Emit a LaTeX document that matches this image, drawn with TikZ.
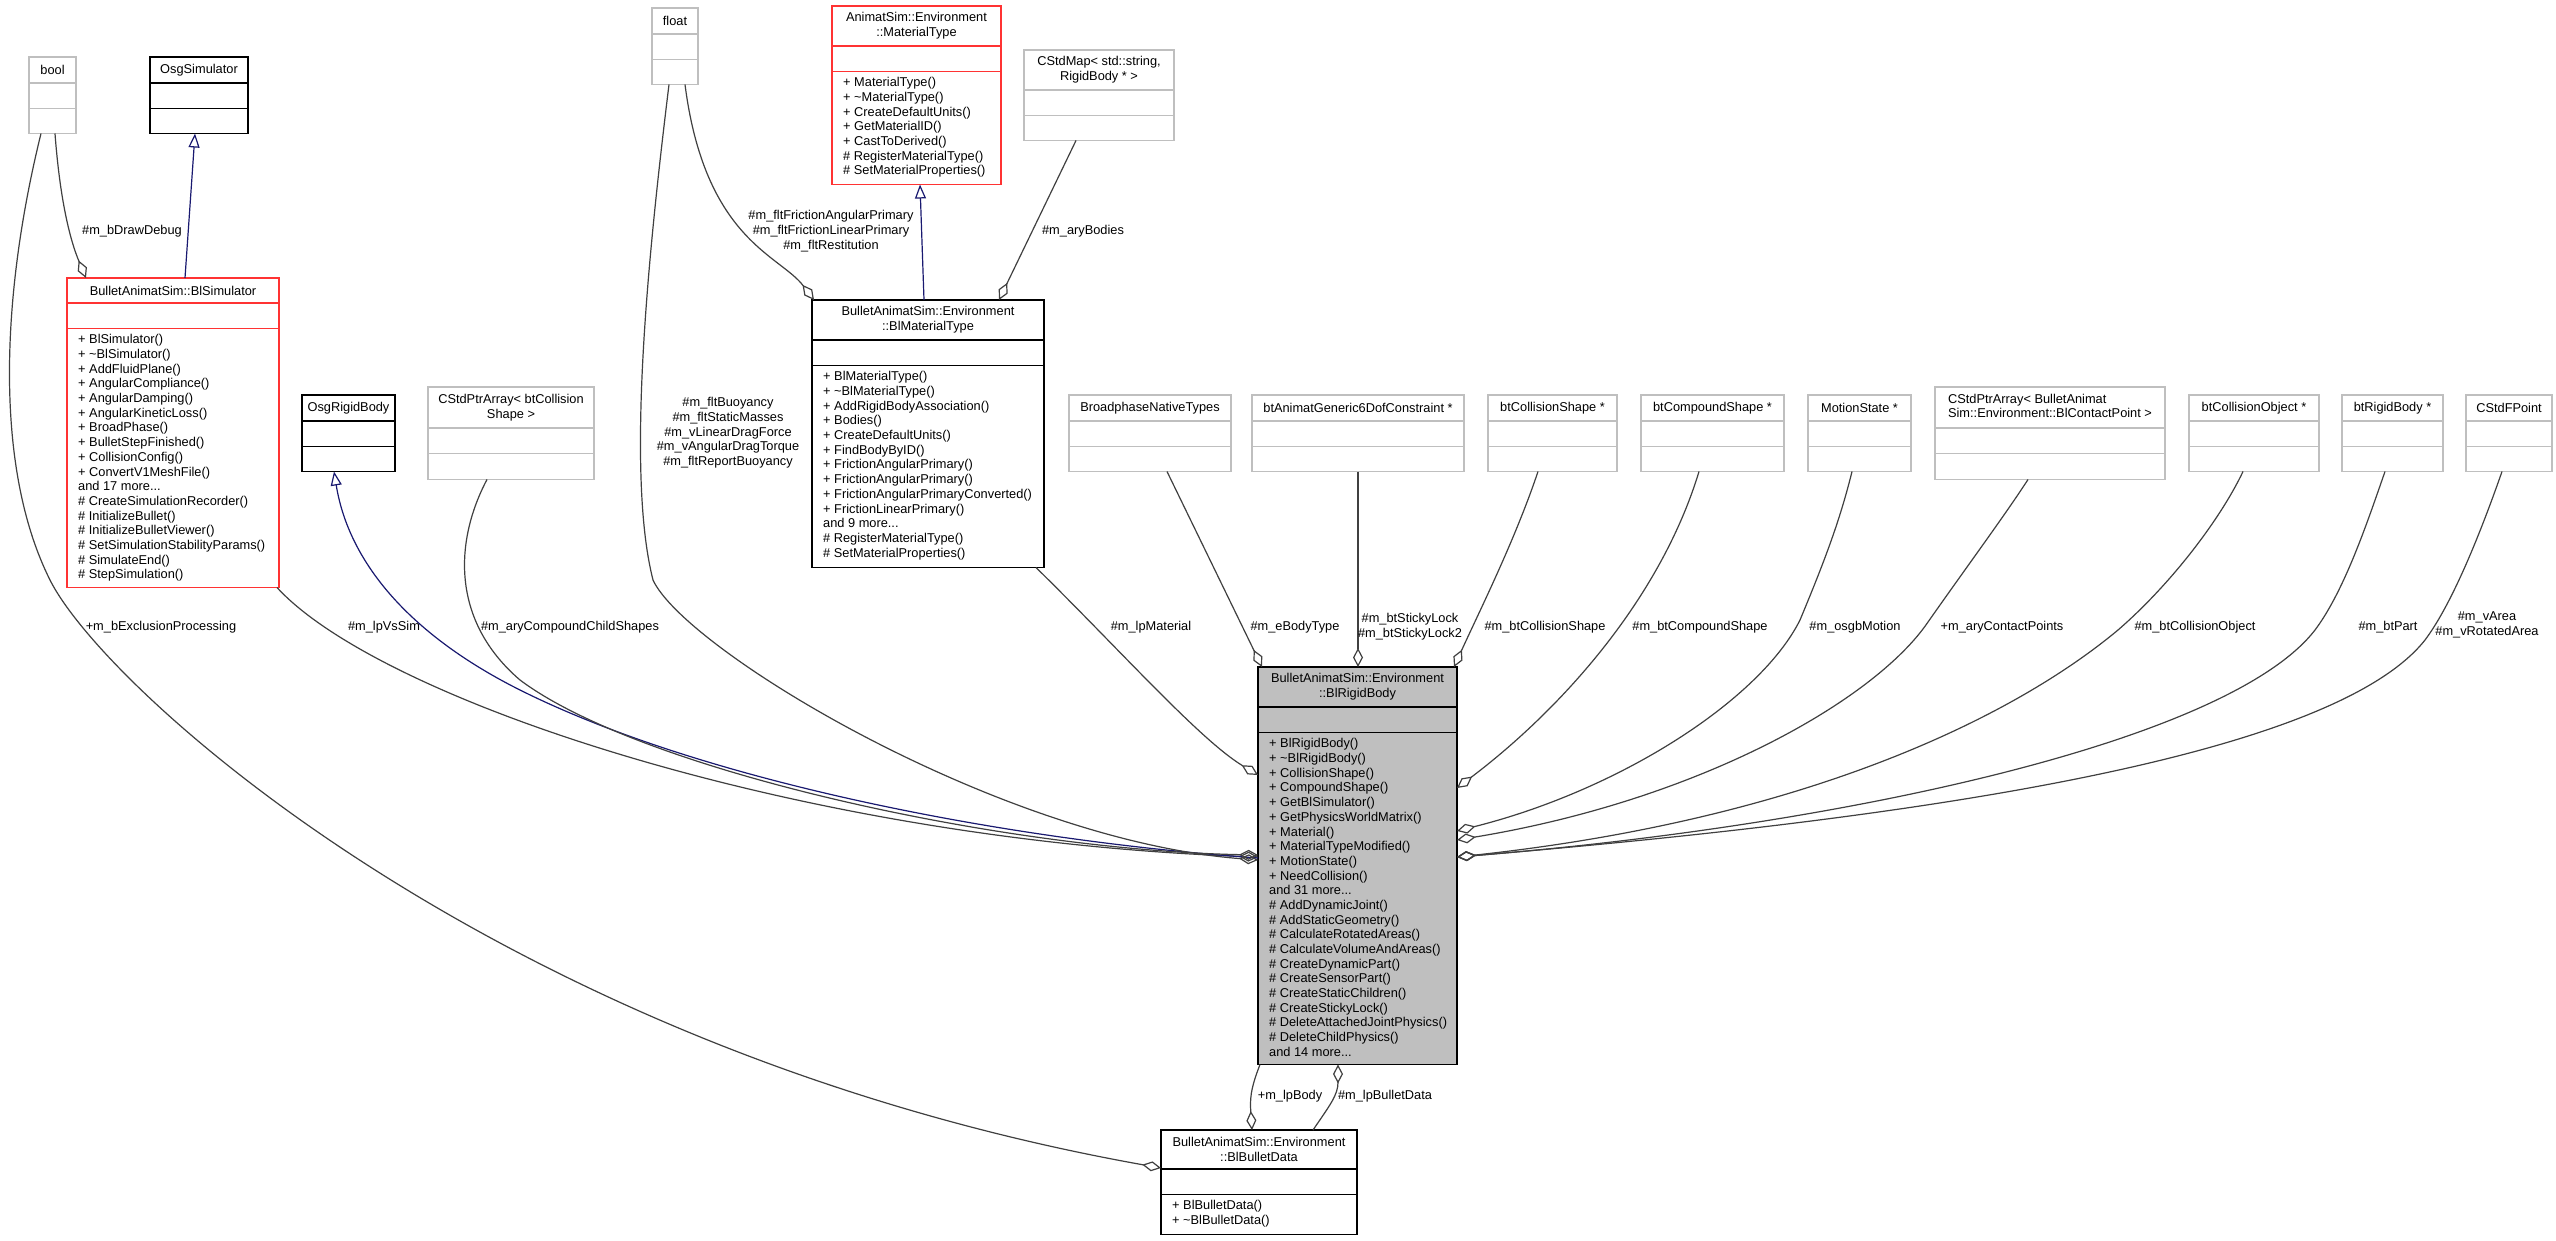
\documentclass[tikz,border=0pt]{standalone}
\usepackage{fontspec}
\setmainfont{Liberation Sans}
\usetikzlibrary{arrows.meta,calc}
\definecolor{boxgray}{HTML}{BFBFBF}
\definecolor{linegray}{HTML}{404040}
\definecolor{inhblue}{HTML}{191970}
\definecolor{boxred}{HTML}{FF3333}
\newcommand{\dfont}{\fontsize{12.8pt}{14.67pt}\selectfont}
% #1 name, #2 style, #3 x, #4 y, #5 width, #6 header height, #7 methods height, #8 header, #9 methods
\newcommand{\umlclass}[9]{%
  \node[#2, anchor=north west, minimum width=#5pt, minimum height={#6pt+25.5pt+#7pt}] (#1) at (#3,#4) {};
  \draw[#2 sep] (#3,{#4+#6}) -- ++(#5,0);
  \draw[#2 sep] (#3,{#4+#6+25.5}) -- ++(#5,0);
  \node[hdr] (#1-h) at ({#3+#5/2},{#4+#6/2}) {#8};
  \if\relax\detokenize{#9}\relax\else
  \node[mth, anchor=north west] (#1-m) at ({#3+11},{#4+#6+25.5+6}) {#9};
  \fi
}
\begin{document}
\begin{tikzpicture}[x=1pt,y=-1pt,
  boxbase/.style={rectangle, line width=1.6pt, outer sep=0pt, inner sep=0pt},
  graybox/.style={boxbase, draw=boxgray},
  graybox sep/.style={draw=boxgray, line width=1.6pt},
  blackbox/.style={boxbase, draw=black},
  blackbox sep/.style={draw=black, line width=1.6pt},
  redbox/.style={boxbase, draw=boxred},
  redbox sep/.style={draw=boxred, line width=1.6pt},
  focusbox/.style={boxbase, draw=black, fill=boxgray},
  focusbox sep/.style={draw=black, line width=1.6pt},
  hdr/.style={font=\dfont, align=center, inner sep=0pt},
  mth/.style={font=\dfont, align=left, inner sep=0pt},
  lbl/.style={font=\dfont, align=center, inner sep=0pt},
  agg/.style={draw=linegray, line width=1.2pt, -{Diamond[open, length=19pt, width=10pt]}},
  inh/.style={draw=inhblue, line width=1.2pt, -{Triangle[open, length=14pt, width=11pt]}}]
\fill[white] (0,0) rectangle (2556,1241);
\useasboundingbox (0,0) rectangle (2556,1241);

% ---------- classes ----------
\umlclass{bool}{graybox}{29}{57}{47}{26}{25}{bool}{}
\umlclass{osgsim}{blackbox}{150}{57}{98}{26}{25}{OsgSimulator}{}
\umlclass{float}{graybox}{652}{8}{46}{26}{25}{float}{}
\umlclass{mattype}{redbox}{832}{6}{169}{40}{113}{AnimatSim::Environment\\::MaterialType}{%
+ MaterialType()\\
+ \textasciitilde MaterialType()\\
+ CreateDefaultUnits()\\
+ GetMaterialID()\\
+ CastToDerived()\\
\# RegisterMaterialType()\\
\# SetMaterialProperties()}
\umlclass{cstdmap}{graybox}{1024}{50}{150}{40}{25}{CStdMap< std::string,\\RigidBody * >}{}
\umlclass{blsim}{redbox}{67}{278}{212}{25}{259}{BulletAnimatSim::BlSimulator}{%
+ BlSimulator()\\
+ \textasciitilde BlSimulator()\\
+ AddFluidPlane()\\
+ AngularCompliance()\\
+ AngularDamping()\\
+ AngularKineticLoss()\\
+ BroadPhase()\\
+ BulletStepFinished()\\
+ CollisionConfig()\\
+ ConvertV1MeshFile()\\
and 17 more...\\
\# CreateSimulationRecorder()\\
\# InitializeBullet()\\
\# InitializeBulletViewer()\\
\# SetSimulationStabilityParams()\\
\# SimulateEnd()\\
\# StepSimulation()}
\umlclass{blmat}{blackbox}{812}{300}{232}{40}{202}{BulletAnimatSim::Environment\\::BlMaterialType}{%
+ BlMaterialType()\\
+ \textasciitilde BlMaterialType()\\
+ AddRigidBodyAssociation()\\
+ Bodies()\\
+ CreateDefaultUnits()\\
+ FindBodyByID()\\
+ FrictionAngularPrimary()\\
+ FrictionAngularPrimary()\\
+ FrictionAngularPrimaryConverted()\\
+ FrictionLinearPrimary()\\
and 9 more...\\
\# RegisterMaterialType()\\
\# SetMaterialProperties()}
\umlclass{osgrb}{blackbox}{302}{395}{93}{26}{25}{OsgRigidBody}{}
\umlclass{cspa}{graybox}{428}{387}{166}{41}{26}{CStdPtrArray< btCollision\\Shape >}{}
\umlclass{bpnt}{graybox}{1069}{395}{162}{26}{25}{BroadphaseNativeTypes}{}
\umlclass{bt6dof}{graybox}{1252}{395}{212}{26}{25}{btAnimatGeneric6DofConstraint *}{}
\umlclass{btcs}{graybox}{1488}{395}{129}{26}{25}{btCollisionShape *}{}
\umlclass{btcomp}{graybox}{1641}{395}{143}{26}{25}{btCompoundShape *}{}
\umlclass{motion}{graybox}{1808}{395}{103}{26}{25}{MotionState *}{}
\umlclass{cpa}{graybox}{1935}{387}{230}{41}{26}{\begin{tabular}{@{}l@{}}CStdPtrArray< BulletAnimat\\Sim::Environment::BlContactPoint >\end{tabular}}{}
\umlclass{btco}{graybox}{2189}{395}{130}{26}{25}{btCollisionObject *}{}
\umlclass{btrb}{graybox}{2342}{395}{101}{26}{25}{btRigidBody *}{}
\umlclass{fpoint}{graybox}{2466}{395}{86}{26}{25}{CStdFPoint}{}
\umlclass{rb}{focusbox}{1258}{667}{199}{40}{332}{BulletAnimatSim::Environment\\::BlRigidBody}{%
+ BlRigidBody()\\
+ \textasciitilde BlRigidBody()\\
+ CollisionShape()\\
+ CompoundShape()\\
+ GetBlSimulator()\\
+ GetPhysicsWorldMatrix()\\
+ Material()\\
+ MaterialTypeModified()\\
+ MotionState()\\
+ NeedCollision()\\
and 31 more...\\
\# AddDynamicJoint()\\
\# AddStaticGeometry()\\
\# CalculateRotatedAreas()\\
\# CalculateVolumeAndAreas()\\
\# CreateDynamicPart()\\
\# CreateSensorPart()\\
\# CreateStaticChildren()\\
\# CreateStickyLock()\\
\# DeleteAttachedJointPhysics()\\
\# DeleteChildPhysics()\\
and 14 more...}
\umlclass{bd}{blackbox}{1161}{1130}{196}{39}{40}{BulletAnimatSim::Environment\\::BlBulletData}{%
+ BlBulletData()\\
+ \textasciitilde BlBulletData()}

% ---------- connectors ----------
\draw[agg] ($(bool.south west)+(26,0)$) .. controls (60,200) and (70,240) .. ($(blsim.north west)+(19,0)$);
\draw[inh] ($(blsim.north west)+(118,0)$) -- ($(osgsim.south west)+(45,0)$);
\draw[agg] ($(bool.south west)+(12,0)$) .. controls (0,300) and (-5,470) .. (50,580)
   .. controls (105,690) and (500,1050) .. ($(bd.north west)+(0,38)$);
\draw[agg] ($(blsim.south east)+(-2,0)$) .. controls (380,700) and (800,840) .. ($(rb.north west)+(0,190)$);
\draw[inh] ($(rb.north west)+(0,191)$) .. controls (1000,840) and (700,780) .. (520,690)
   .. controls (420,640) and (350,570) .. ($(osgrb.south west)+(32,0)$);
\draw[agg] ($(cspa.south west)+(59,0)$) .. controls (455,540) and (450,620) .. (520,680)
   .. controls (640,770) and (1000,850) .. ($(rb.north west)+(0,188)$);
\draw[agg] ($(float.south west)+(17,0)$) .. controls (650,240) and (625,470) .. (653,580)
   .. controls (685,650) and (1000,840) .. ($(rb.north west)+(0,193)$);
\draw[agg] ($(float.south west)+(33,0)$) .. controls (705,240) and (780,255) .. ($(blmat.north west)+(2,0)$);
\draw[inh] ($(blmat.north west)+(112,0)$) -- ($(mattype.south west)+(88,0)$);
\draw[agg] ($(cstdmap.south west)+(52,0)$) -- ($(blmat.north west)+(187,0)$);
\draw[agg] ($(blmat.south west)+(224,0)$) .. controls (1120,650) and (1200,740) .. ($(rb.north west)+(0,108)$);
\draw[agg] ($(bpnt.south west)+(98,0)$) -- ($(rb.north west)+(4,0)$);
\draw[agg] ($(bt6dof.south west)+(106,0)$) -- ($(rb.north west)+(100,0)$);
\draw[agg] ($(btcs.south west)+(50,0)$) .. controls (1515,540) and (1480,610) .. ($(rb.north east)+(-3,0)$);
\draw[agg] ($(btcomp.south west)+(58,0)$) .. controls (1660,600) and (1560,710) .. ($(rb.north east)+(0,121)$);
\draw[agg] ($(motion.south west)+(44,0)$) .. controls (1840,520) and (1825,560) .. (1800,620)
   .. controls (1760,700) and (1620,790) .. ($(rb.north east)+(0,164)$);
\draw[agg] ($(cpa.south west)+(93,0)$) .. controls (2005,515) and (1968,565) .. (1928,622)
   .. controls (1875,700) and (1700,800) .. ($(rb.north east)+(0,173)$);
\draw[agg] ($(btco.south west)+(54,0)$) .. controls (2220,520) and (2170,585) .. (2118,630)
   .. controls (2010,720) and (1800,820) .. ($(rb.north east)+(0,190)$);
\draw[agg] ($(btrb.south west)+(43,0)$) .. controls (2368,520) and (2345,590) .. (2315,630)
   .. controls (2230,740) and (1850,825) .. ($(rb.north east)+(0,190)$);
\draw[agg] ($(fpoint.south west)+(36,0)$) .. controls (2485,520) and (2455,600) .. (2425,640)
   .. controls (2330,760) and (1900,820) .. ($(rb.north east)+(0,190)$);
\draw[agg] ($(rb.south west)+(2,0)$) .. controls (1250,1090) and (1250,1100) .. ($(bd.north west)+(91,0)$);
\draw[agg] ($(bd.north west)+(152,0)$) .. controls (1330,1105) and (1338,1095) .. ($(rb.south west)+(80,0)$);

% ---------- labels ----------
\node[lbl] (l1) at (132,231) {\#m\_bDrawDebug};
\node[lbl] (l2) at (161,627) {+m\_bExclusionProcessing};
\node[lbl] (l3) at (384,627) {\#m\_lpVsSim};
\node[lbl] (l4) at (570,627) {\#m\_aryCompoundChildShapes};
\node[lbl] (l5) at (728,433) {\#m\_fltBuoyancy\\\#m\_fltStaticMasses\\\#m\_vLinearDragForce\\\#m\_vAngularDragTorque\\\#m\_fltReportBuoyancy};
\node[lbl] (l6) at (831,231) {\#m\_fltFrictionAngularPrimary\\\#m\_fltFrictionLinearPrimary\\\#m\_fltRestitution};
\node[lbl] (l7) at (1083,231) {\#m\_aryBodies};
\node[lbl] (l8) at (1151,627) {\#m\_lpMaterial};
\node[lbl] (l9) at (1295,627) {\#m\_eBodyType};
\node[lbl] (l10) at (1410,627) {\#m\_btStickyLock\\\#m\_btStickyLock2};
\node[lbl] (l11) at (1545,627) {\#m\_btCollisionShape};
\node[lbl] (l12) at (1700,627) {\#m\_btCompoundShape};
\node[lbl] (l13) at (1855,627) {\#m\_osgbMotion};
\node[lbl] (l14) at (2002,627) {+m\_aryContactPoints};
\node[lbl] (l15) at (2195,627) {\#m\_btCollisionObject};
\node[lbl] (l16) at (2388,627) {\#m\_btPart};
\node[lbl] (l17) at (2487,625) {\#m\_vArea\\\#m\_vRotatedArea};
\node[lbl] (l18) at (1290,1096) {+m\_lpBody};
\node[lbl] (l19) at (1385,1096) {\#m\_lpBulletData};
\end{tikzpicture}
\end{document}
